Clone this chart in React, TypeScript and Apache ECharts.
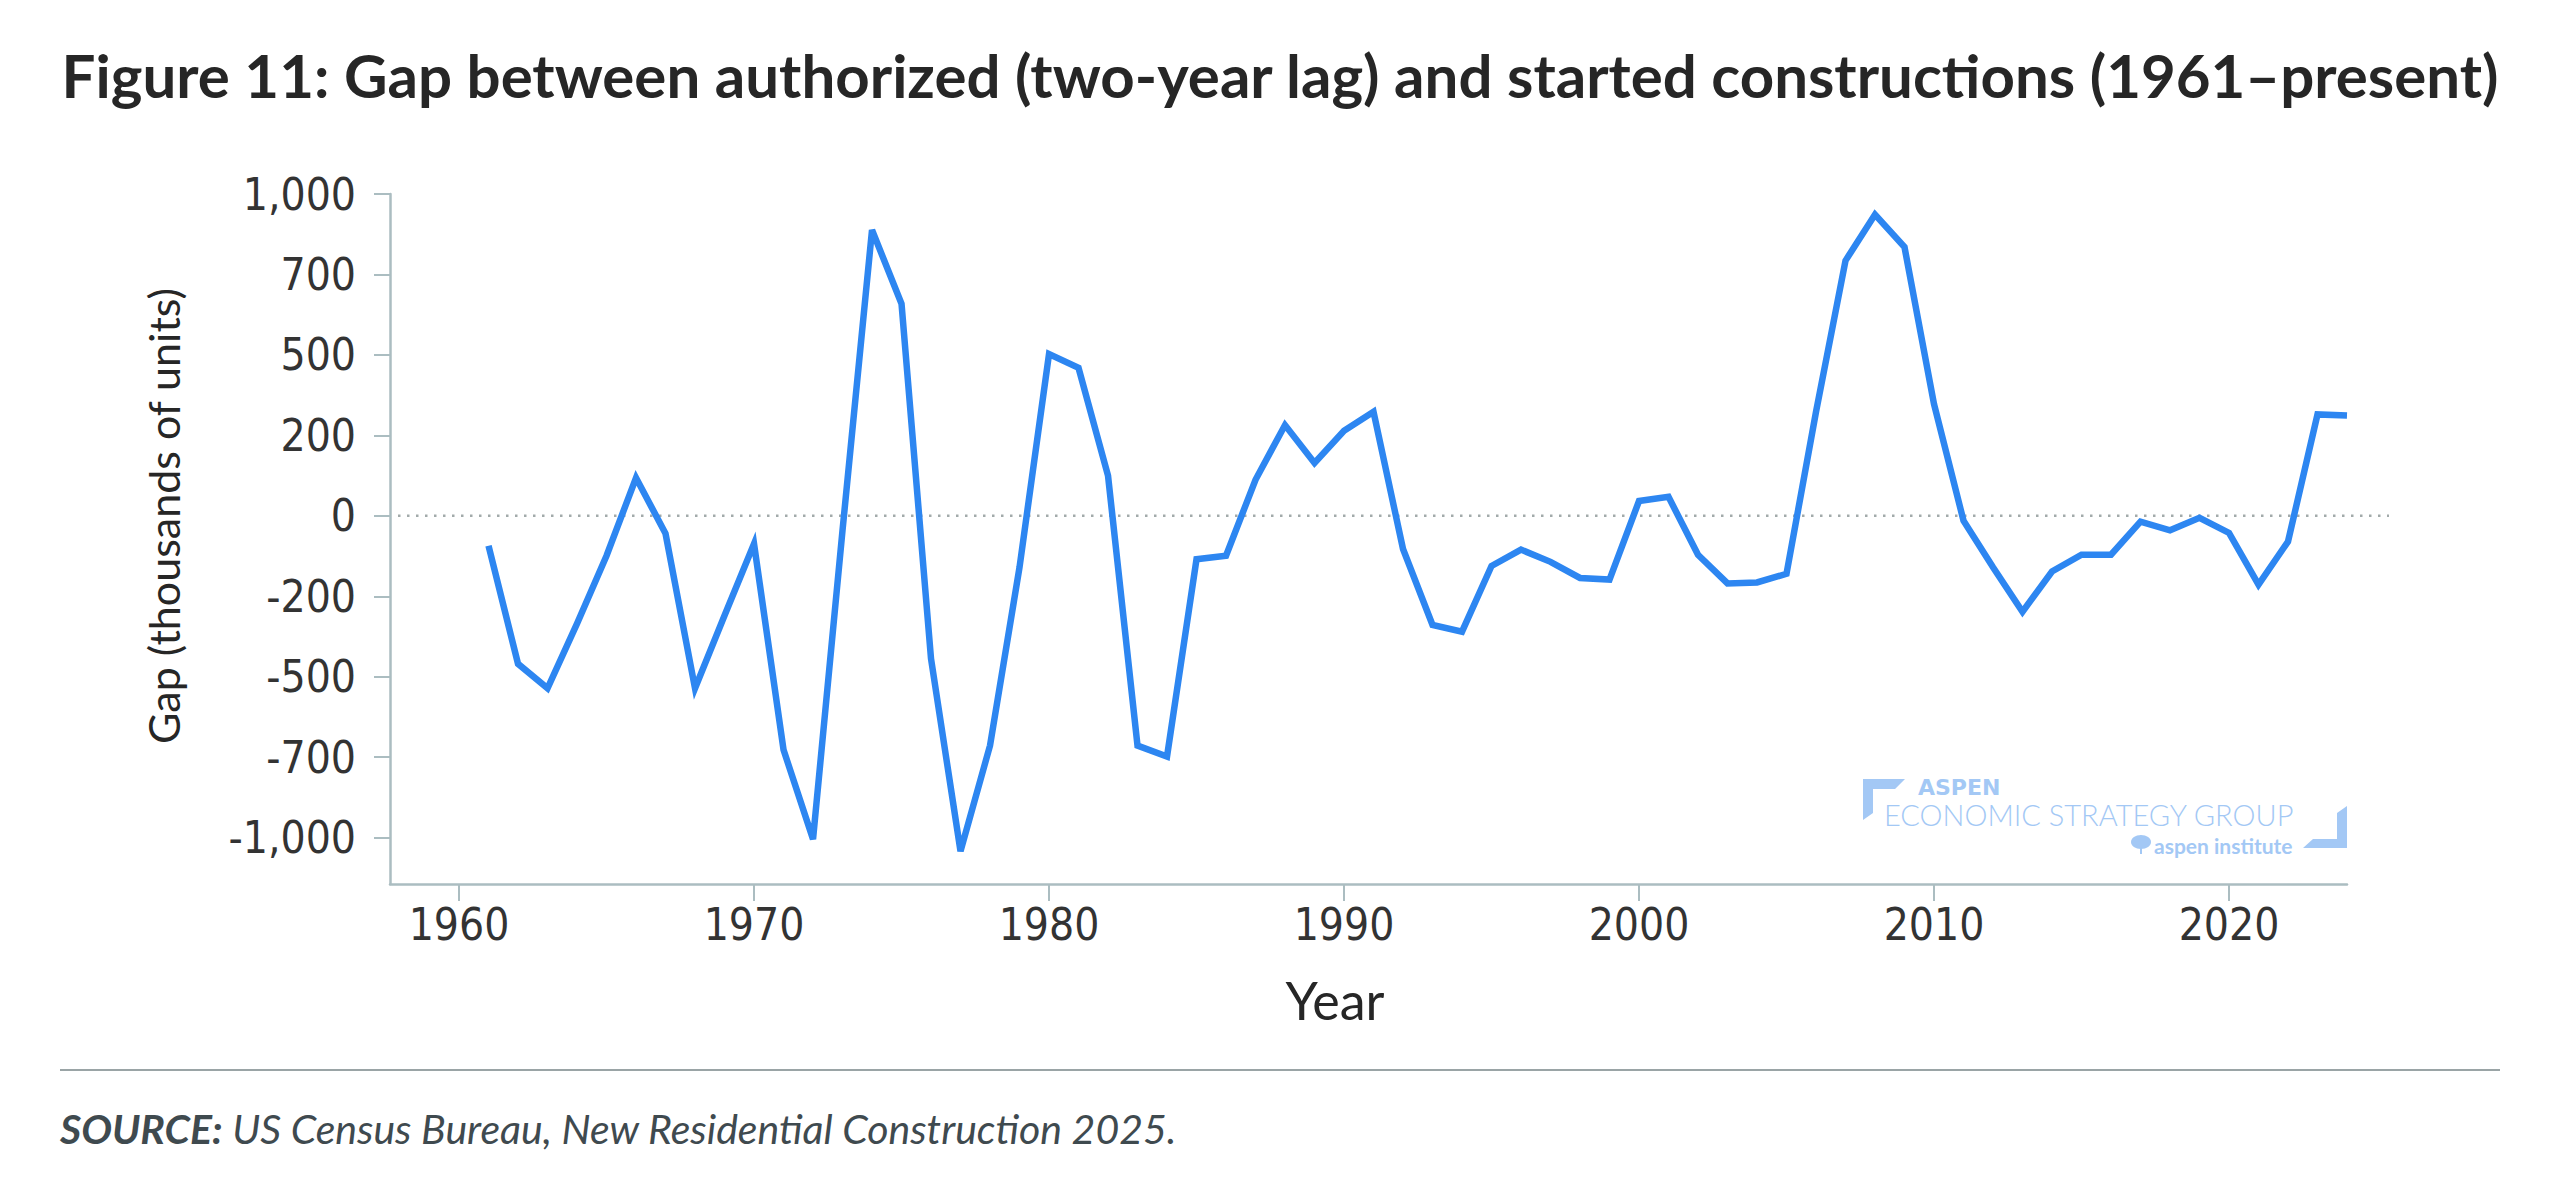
import { useEffect, useRef } from 'react';
import * as echarts from 'echarts';

const TITLE = 'Figure 11: Gap between authorized (two-year lag) and started constructions (1961–present)';
const Y_NAME = 'Gap (thousands of units)';
const X_NAME = 'Year';
const SOURCE_LABEL = 'SOURCE:';
const SOURCE_TEXT = ' US Census Bureau, New Residential Construction 2025.';

const years = [
  1961, 1962, 1963, 1964, 1965, 1966, 1967, 1968, 1969, 1970,
  1971, 1972, 1973, 1974, 1975, 1976, 1977, 1978, 1979, 1980,
  1981, 1982, 1983, 1984, 1985, 1986, 1987, 1988, 1989, 1990,
  1991, 1992, 1993, 1994, 1995, 1996, 1997, 1998, 1999, 2000,
  2001, 2002, 2003, 2004, 2005, 2006, 2007, 2008, 2009, 2010,
  2011, 2012, 2013, 2014, 2015, 2016, 2017, 2018, 2019, 2020,
  2021, 2022, 2023, 2024,
];

// gap in thousands of units
const gapValues = [
  -93, -460, -536, -335, -124, 118, -55, -536, -310, -87,
  -727, -1005, -45, 888, 659, -444, -1042, -714, -160, 503,
  460, 125, -714, -748, -135, -124, 112, 282, 164, 264,
  323, -103, -339, -360, -156, -105, -143, -193, -198, 46,
  59, -121, -210, -207, -180, 323, 793, 936, 835, 347,
  -15, -160, -298, -173, -121, -121, -18, -45, -6, -53,
  -214, -80, 315, 312,
];

const xTickValues = [1960, 1970, 1980, 1990, 2000, 2010, 2020];
const yTickValues = [-1000, -750, -500, -250, 0, 250, 500, 750, 1000];
const yTickLabels = ['-1,000', '-700', '-500', '-200', '0', '200', '500', '700', '1,000'];

const X_MIN = 1957.66;
const X_MAX = 2024;
const Y_MIN = -1144;
const Y_MAX = 1000;

const LINE_COLOR = '#2d86f1';
const AXIS_COLOR = '#abbdc1';
const TEXT_COLOR = '#262626';
const LOGO_COLOR = '#a3c8f5';
const TICK_FONT = "'Liberation Sans Narrow', 'DejaVu Sans Condensed', 'Roboto', sans-serif";

function logoGraphics() {
  return [
    {
      type: 'polygon',
      shape: { points: [[1863, 779], [1905, 779], [1895, 789], [1873, 789], [1873, 813], [1863, 820]] },
      style: { fill: LOGO_COLOR },
    },
    {
      type: 'polygon',
      shape: { points: [[2347, 806], [2347, 848], [2303, 848], [2313, 839], [2337, 839], [2337, 813]] },
      style: { fill: LOGO_COLOR },
    },
    {
      type: 'text',
      x: 1918,
      y: 787,
      style: { text: 'ASPEN', fill: LOGO_COLOR, font: "bold 22px 'DejaVu Sans', sans-serif", textVerticalAlign: 'middle' },
    },
    {
      type: 'text',
      x: 1884,
      y: 814,
      style: { text: 'ECONOMIC STRATEGY GROUP', fill: LOGO_COLOR, font: "300 29px Lato, sans-serif", textVerticalAlign: 'middle' },
    },
    {
      type: 'ellipse',
      shape: { cx: 2141, cy: 842, rx: 10, ry: 7 },
      style: { fill: LOGO_COLOR },
    },
    {
      type: 'line',
      shape: { x1: 2141, y1: 846, x2: 2141, y2: 854 },
      style: { stroke: LOGO_COLOR, lineWidth: 2 },
    },
    {
      type: 'text',
      x: 2154,
      y: 845,
      style: { text: 'aspen institute', fill: LOGO_COLOR, font: "bold 21px Lato, sans-serif", textVerticalAlign: 'middle' },
    },
  ];
}

export default function App() {
  const chartRef = useRef<HTMLDivElement>(null);

  useEffect(() => {
    document.body.style.margin = '0';
    if (!chartRef.current) return;
    const chart = echarts.init(chartRef.current, undefined, { renderer: 'svg' });

    chart.setOption({
      animation: false,
      backgroundColor: '#ffffff',
      title: {
        text: TITLE,
        left: 'center',
        top: 40,
        textStyle: { fontFamily: 'Lato', fontWeight: 700, fontSize: 60, color: TEXT_COLOR },
      },
      grid: { left: 390, right: 213, top: 194, bottom: 301 },
      xAxis: {
        type: 'value',
        min: X_MIN,
        max: X_MAX,
        axisLine: { onZero: false, lineStyle: { color: AXIS_COLOR, width: 2.5 } },
        axisTick: { customValues: xTickValues, length: 17, lineStyle: { color: AXIS_COLOR, width: 2 } },
        axisLabel: {
          customValues: xTickValues,
          margin: 18,
          color: '#333333',
          fontFamily: TICK_FONT,
          fontSize: 44,
          formatter: (v: number) => String(v),
        },
        splitLine: { show: false },
      },
      yAxis: {
        type: 'value',
        min: Y_MIN,
        max: Y_MAX,
        axisLine: { show: true, onZero: false, lineStyle: { color: AXIS_COLOR, width: 2.5 } },
        axisTick: { show: true, customValues: yTickValues, length: 16, lineStyle: { color: AXIS_COLOR, width: 2 } },
        axisLabel: {
          customValues: yTickValues,
          margin: 34,
          color: '#333333',
          fontFamily: TICK_FONT,
          fontSize: 44,
          formatter: (v: number) => {
            const i = yTickValues.indexOf(v);
            return i >= 0 ? yTickLabels[i] : '';
          },
        },
        splitLine: { show: false },
      },
      series: [
        {
          type: 'line',
          data: years.map((y, i) => [y, gapValues[i]]),
          symbol: 'none',
          color: LINE_COLOR,
          lineStyle: { color: LINE_COLOR, width: 6.5, join: 'miter' },
          z: 3,
        },
      ],
    });

    // zero reference line runs a little past the end of the x axis
    const y0 = chart.convertToPixel({ yAxisIndex: 0 }, 0) as number;
    const xLeft = chart.convertToPixel({ xAxisIndex: 0 }, X_MIN) as number;
    const xRight = chart.convertToPixel({ xAxisIndex: 0 }, X_MAX) as number;

    chart.setOption({
      graphic: [
        {
          type: 'line',
          z: 1,
          shape: { x1: xLeft + 8, y1: y0, x2: xRight + 42, y2: y0 },
          style: { stroke: '#a2aaaa', lineWidth: 2.5, lineDash: [2.5, 6.5] },
        },
        {
          type: 'text',
          x: 163,
          y: 516,
          rotation: Math.PI / 2,
          style: {
            text: Y_NAME,
            fill: TEXT_COLOR,
            font: "43px Lato, sans-serif",
            textAlign: 'center',
            textVerticalAlign: 'middle',
          },
        },
        {
          type: 'text',
          x: 1335,
          y: 1000,
          style: {
            text: X_NAME,
            fill: TEXT_COLOR,
            font: "52px Lato, sans-serif",
            textAlign: 'center',
            textVerticalAlign: 'middle',
          },
        },
        {
          type: 'line',
          shape: { x1: 60, y1: 1070, x2: 2500, y2: 1070 },
          style: { stroke: '#9aa4a6', lineWidth: 2 },
        },
        {
          type: 'text',
          x: 60,
          y: 1128,
          style: {
            text: `{b|${SOURCE_LABEL}}{r|${SOURCE_TEXT}}`,
            textVerticalAlign: 'middle',
            rich: {
              b: { fontFamily: 'Lato', fontStyle: 'italic', fontWeight: 700, fontSize: 41, fill: '#3f4a4f' },
              r: { fontFamily: 'Lato', fontStyle: 'italic', fontWeight: 400, fontSize: 41, fill: '#3f4a4f' },
            },
          },
        },
        ...logoGraphics(),
      ],
    });

    return () => chart.dispose();
  }, []);

  return <div ref={chartRef} style={{ width: 2560, height: 1185 }} />;
}
